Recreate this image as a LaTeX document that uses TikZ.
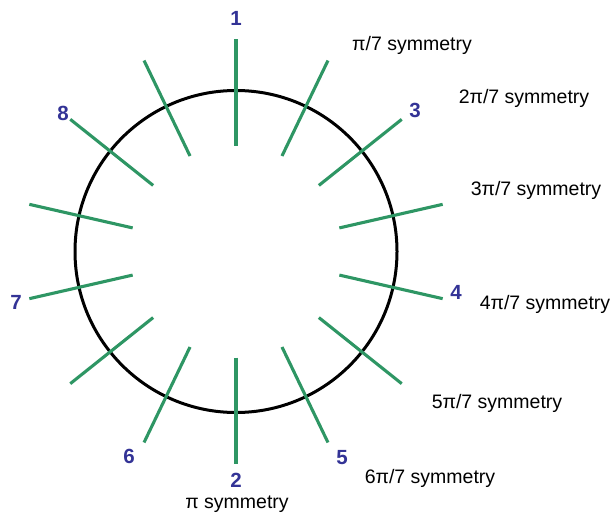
\documentclass[tikz,border=0pt]{standalone}
\usepackage{fontspec}
\setmainfont{Liberation Sans}
\usetikzlibrary{calc}
\begin{document}
\begin{tikzpicture}[x=1pt,y=-1pt,
  spoke/.style={draw=spokegreen,line width=3.1pt},
  ring/.style={draw=black,line width=3pt},
  num/.style={text=numblue,font=\fontsize{20.5}{24}\selectfont\bfseries,inner sep=0pt},
  lab/.style={text=black,font=\fontsize{19.5}{22}\selectfont,inner sep=0pt}]
\definecolor{spokegreen}{RGB}{46,150,100}
\definecolor{numblue}{RGB}{51,51,150}
\useasboundingbox (0,0) rectangle (612,516);
\coordinate (c) at (236,251.5);
\draw[ring] (c) circle[radius=161];
\foreach \k in {0,...,13}{
  \pgfmathsetmacro{\a}{90-\k*360/14}
  \coordinate (in\k) at ($(c)+({106*cos(\a)},{-106*sin(\a)})$);
  \coordinate (out\k) at ($(c)+({212*cos(\a)},{-212*sin(\a)})$);
  \draw[spoke] (in\k) -- (out\k);
}
\node[num] (n1) at (236,18) {1};
\node[num] (n8) at (63,113) {8};
\node[num] (n3) at (415,110) {3};
\node[num] (n7) at (16,302) {7};
\node[num] (n4) at (456,292) {4};
\node[num] (n6) at (129,456) {6};
\node[num] (n2) at (236,480) {2};
\node[num] (n5) at (342,458) {5};
\node[lab] (s1) at (412,45) {π/7 symmetry};
\node[lab] (s2) at (524,98) {2π/7 symmetry};
\node[lab] (s3) at (536,190) {3π/7 symmetry};
\node[lab] (s4) at (545,304) {4π/7 symmetry};
\node[lab] (s5) at (497,403) {5π/7 symmetry};
\node[lab] (s6) at (430,478) {6π/7 symmetry};
\node[lab] (s7) at (237,504) {π symmetry};
\end{tikzpicture}
\end{document}
